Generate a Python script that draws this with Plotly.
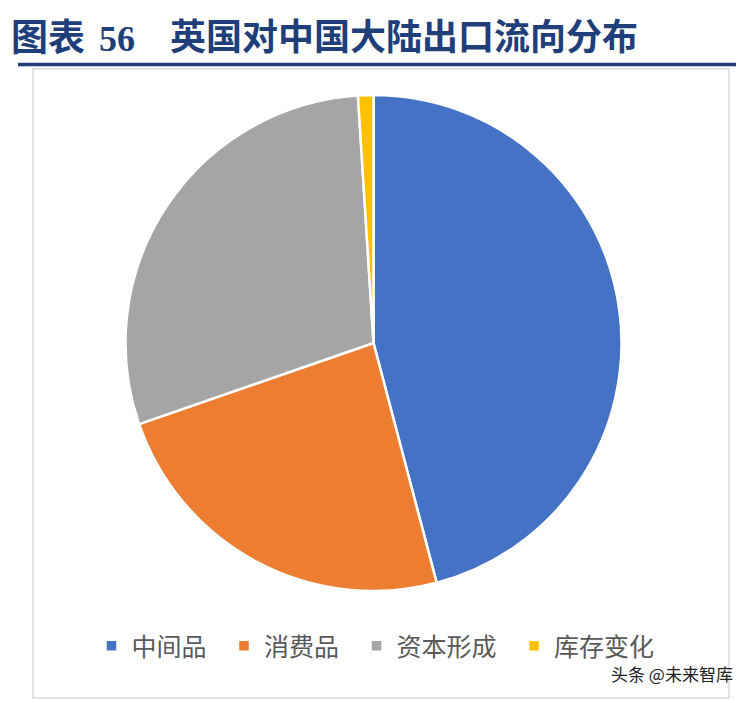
import plotly.graph_objects as go

categories = ["中间品", "消费品", "资本形成", "库存变化"]
values = [45.9, 23.8, 29.3, 1.0]
colors = ["#4472C4", "#ED7D31", "#A5A5A5", "#FFC000"]

W, H = 744, 703

def px(x):
    return x / W

def py(y):
    return 1 - y / H

fig = go.Figure()
fig.add_trace(go.Pie(
    labels=[c + "\u2002" for c in categories],
    values=values,
    sort=False,
    direction="clockwise",
    rotation=0,
    textinfo="none",
    hoverinfo="label+percent",
    marker=dict(colors=colors, line=dict(color="white", width=2.5)),
    domain=dict(x=[px(117.5), px(613.5)], y=[py(583), py(87)]),
))

fig.update_layout(
    width=W, height=H,
    margin=dict(l=0, r=0, t=0, b=0),
    paper_bgcolor="white",
    plot_bgcolor="white",
    showlegend=True,
    legend=dict(
        orientation="h",
        x=px(374), xanchor="center",
        y=py(638), yanchor="middle",
        font=dict(family="Noto Sans CJK SC", size=25, color="#595959"),
        itemwidth=30,
        traceorder="normal",
    ),
    shapes=[
        dict(type="rect", xref="paper", yref="paper",
             x0=px(25), x1=px(721), y0=py(690), y1=py(61),
             line=dict(color="#D9D9D9", width=1.5), fillcolor="rgba(0,0,0,0)", layer="below"),
        dict(type="line", xref="paper", yref="paper",
             x0=px(10), x1=px(738), y0=py(56.5), y1=py(56.5),
             line=dict(color="#1F3F7A", width=3.5)),
        dict(type="line", xref="paper", yref="paper",
             x0=px(10), x1=px(738), y0=py(700), y1=py(700),
             line=dict(color="#1F3F7A", width=3.5)),
    ],
    annotations=[
        dict(text="<b>图表</b>", xref="paper", yref="paper",
             x=px(3), y=1, xanchor="left", yanchor="top",
             showarrow=False, borderpad=0, borderwidth=0,
             font=dict(family="Noto Sans CJK SC", size=37, color="#1F3F7A")),
        dict(text="<b>56</b>", xref="paper", yref="paper",
             x=px(89), y=py(31), xanchor="left", yanchor="middle",
             showarrow=False,
             font=dict(family="Liberation Serif", size=36, color="#1F3F7A")),
        dict(text="<b>英国对中国大陆出口流向分布</b>", xref="paper", yref="paper",
             x=px(162), y=1, xanchor="left", yanchor="top",
             showarrow=False, borderpad=0, borderwidth=0,
             font=dict(family="Noto Sans CJK SC", size=36, color="#1F3F7A")),
        dict(text="头条 @未来智库", xref="paper", yref="paper",
             x=px(726), y=py(665), xanchor="right", yanchor="middle",
             showarrow=False, borderpad=0,
             font=dict(family="Noto Sans CJK SC", size=17, color="#222222")),
    ],
)

fig.write_html("out.html")
